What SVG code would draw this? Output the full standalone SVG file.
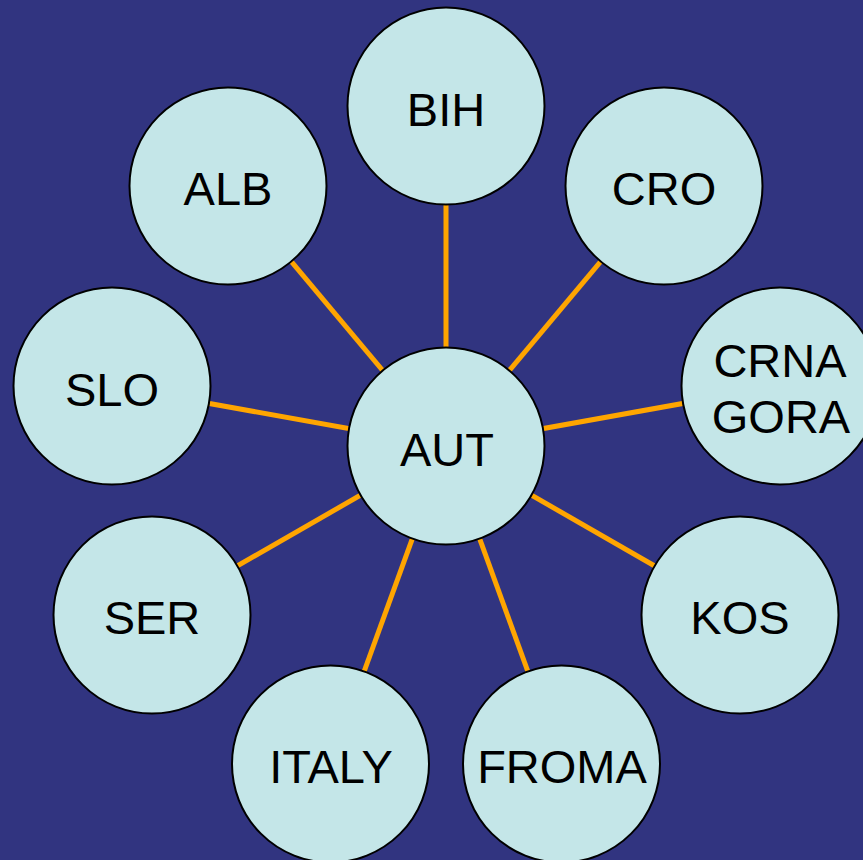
<svg xmlns="http://www.w3.org/2000/svg" width="863" height="860" viewBox="0 0 863 860">
<style>
.node circle{fill:#c4e6e8;stroke:#000;stroke-width:2}
.node text{font-family:"Liberation Sans",Arial,sans-serif;font-size:47px;fill:#000;text-anchor:middle}
.edge{stroke:#ffa500;stroke-width:5;fill:none}
</style>
<rect x="0" y="0" width="863" height="860" fill="#313480"/>
<g id="connectors">
<line class="edge" x1="446" y1="446" x2="446" y2="106"/>
<line class="edge" x1="446" y1="446" x2="228" y2="186"/>
<line class="edge" x1="446" y1="446" x2="664" y2="186"/>
<line class="edge" x1="446" y1="446" x2="112" y2="386"/>
<line class="edge" x1="446" y1="446" x2="780" y2="386"/>
<line class="edge" x1="446" y1="446" x2="152" y2="615"/>
<line class="edge" x1="446" y1="446" x2="740" y2="615"/>
<line class="edge" x1="446" y1="446" x2="330.5" y2="764"/>
<line class="edge" x1="446" y1="446" x2="561.5" y2="764"/>
</g>
<g id="node-bih" class="node"><circle cx="446" cy="106" r="98.5"/><text x="446" y="126">BIH</text></g>
<g id="node-alb" class="node"><circle cx="228" cy="186" r="98.5"/><text x="228" y="205">ALB</text></g>
<g id="node-cro" class="node"><circle cx="664" cy="186" r="98.5"/><text x="664" y="205">CRO</text></g>
<g id="node-slo" class="node"><circle cx="112" cy="386" r="98.5"/><text x="112" y="406">SLO</text></g>
<g id="node-crnagora" class="node"><circle cx="780" cy="386" r="98.5"/><text x="780" y="377">CRNA</text><text x="781" y="433">GORA</text></g>
<g id="node-aut" class="node"><circle cx="446" cy="446" r="98.5"/><text x="447" y="466">AUT</text></g>
<g id="node-ser" class="node"><circle cx="152" cy="615" r="98.5"/><text x="152" y="634">SER</text></g>
<g id="node-kos" class="node"><circle cx="740" cy="615" r="98.5"/><text x="740" y="634">KOS</text></g>
<g id="node-italy" class="node"><circle cx="330.5" cy="764" r="98.5"/><text x="331" y="783">ITALY</text></g>
<g id="node-froma" class="node"><circle cx="561.5" cy="764" r="98.5"/><text x="562" y="783">FROMA</text></g>
</svg>
